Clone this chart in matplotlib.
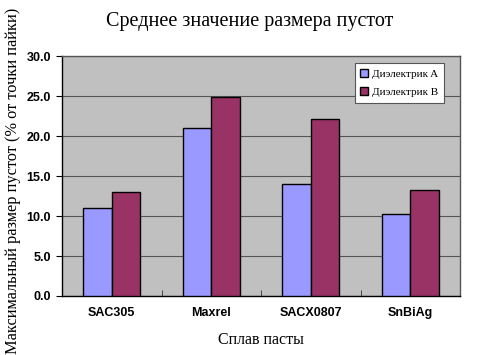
import matplotlib
matplotlib.use("Agg")
import matplotlib.pyplot as plt
import numpy as np

categories = ["SAC305", "Maxrel", "SACX0807", "SnBiAg"]
series_names = ["Диэлектрик A", "Диэлектрик B"]
values_a = [11.0, 21.0, 14.0, 10.2]
values_b = [13.0, 24.9, 22.1, 13.2]
yticks = [0.0, 5.0, 10.0, 15.0, 20.0, 25.0, 30.0]

serif = "Liberation Serif"
sans = "Liberation Sans"

fig = plt.figure(figsize=(5.0, 3.55), dpi=100)
ax = fig.add_axes([0.124, 0.1662, 0.796, 0.676])
ax.set_facecolor("#C0C0C0")

x = np.arange(len(categories))
w = 0.286
ax.bar(x - w / 2, values_a, w, color="#9999FF", edgecolor="black", linewidth=1.0,
       label=series_names[0], zorder=3)
ax.bar(x + w / 2, values_b, w, color="#993366", edgecolor="black", linewidth=1.0,
       label=series_names[1], zorder=3)

ax.set_xlim(-0.5, len(categories) - 0.5)
ax.set_ylim(0, 30)
ax.set_yticks(yticks)
ax.set_yticklabels([f"{v:.1f}" for v in yticks], fontfamily=sans, fontweight="bold", fontsize=9)
ax.yaxis.grid(True, color="#555555", linewidth=0.8, zorder=1)
ax.set_axisbelow(True)

ax.set_xticks(x)
ax.set_xticklabels(categories, fontfamily=sans, fontweight="bold", fontsize=9)
ax.tick_params(axis="x", length=0, pad=8)
ax.set_xticks(np.arange(0.5, len(categories) - 0.5, 1.0), minor=True)
ax.tick_params(axis="x", which="minor", direction="in", length=4, color="#333333")
ax.tick_params(axis="y", direction="out", length=4, pad=4)

for side in ["left", "bottom"]:
    ax.spines[side].set_color("black")
    ax.spines[side].set_linewidth(1.0)
for side in ["top", "right"]:
    ax.spines[side].set_color("#555555")
    ax.spines[side].set_linewidth(1.0)

fig.text(0.5, 0.94, "Среднее значение размера пустот", ha="center", va="center",
         fontfamily=serif, fontsize=14.5)
fig.text(0.026, 0.49, "Максимальный размер пустот (% от точки пайки)", ha="center", va="center",
         rotation=90, fontfamily=serif, fontsize=11.8)
fig.text(0.522, 0.042, "Сплав пасты", ha="center", va="center", fontfamily=serif, fontsize=11.5)

leg = ax.legend(loc="upper right", bbox_to_anchor=(0.96, 0.97), prop={"family": serif, "size": 8},
                frameon=True, fancybox=False, framealpha=1, edgecolor="#555555",
                handlelength=0.7, handleheight=0.7, borderpad=0.5, labelspacing=0.8,
                handletextpad=0.4, borderaxespad=0.0)
leg.get_frame().set_linewidth(0.8)

fig.savefig("out.png", dpi=100)
